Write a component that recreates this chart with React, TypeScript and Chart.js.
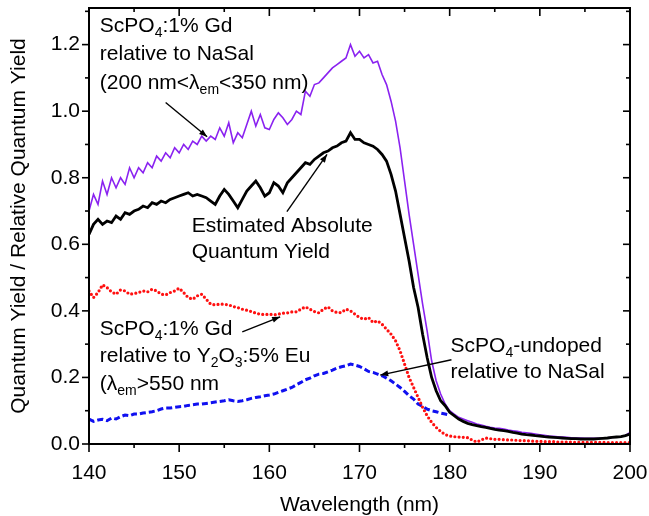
import React, { useEffect, useRef } from "react";
import { Chart, registerables } from "chart.js";

Chart.register(...registerables);

// ---------- data ----------
const wavelengths = [
  140, 140.5, 141, 141.5, 142, 142.5, 143, 143.5, 144, 144.5,
  145, 145.5, 146, 146.5, 147, 147.5, 148, 148.5, 149, 149.5,
  150, 150.5, 151, 151.5, 152, 152.5, 153, 153.5, 154, 154.5,
  155, 155.5, 156, 156.5, 157, 157.5, 158, 158.5, 159, 159.5,
  160, 160.5, 161, 161.5, 162, 162.5, 163, 163.5, 164, 164.5,
  165, 165.5, 166, 166.5, 167, 167.5, 168, 168.5, 169, 169.5,
  170, 170.5, 171, 171.5, 172, 172.5, 173, 173.5, 174, 174.5,
  175, 175.5, 176, 176.5, 177, 177.5, 178, 178.5, 179, 179.5,
  180, 180.5, 181, 181.5, 182, 182.5, 183, 183.5, 184, 184.5,
  185, 185.5, 186, 186.5, 187, 187.5, 188, 188.5, 189, 189.5,
  190, 190.5, 191, 191.5, 192, 192.5, 193, 193.5, 194, 194.5,
  195, 195.5, 196, 196.5, 197, 197.5, 198, 198.5, 199, 199.5,
  200,
];

// ScPO4:1% Gd relative to NaSal (purple)
const gdRelNaSal = [
  0.70, 0.75, 0.72, 0.79, 0.75, 0.80, 0.77, 0.80, 0.78, 0.83,
  0.80, 0.83, 0.815, 0.845, 0.83, 0.865, 0.85, 0.875, 0.86, 0.89,
  0.875, 0.90, 0.885, 0.91, 0.90, 0.925, 0.91, 0.925, 0.915, 0.95,
  0.925, 0.965, 0.905, 0.935, 0.92, 0.96, 1.0, 0.955, 0.99, 0.95,
  0.945, 0.975, 0.995, 0.98, 0.96, 0.975, 1.0, 0.99, 1.06, 1.045,
  1.08, 1.085, 1.10, 1.115, 1.13, 1.14, 1.15, 1.16, 1.20, 1.165,
  1.18, 1.16, 1.17, 1.145, 1.15, 1.11, 1.08, 1.03, 0.97, 0.89,
  0.79, 0.69, 0.60, 0.51, 0.42, 0.34, 0.25, 0.19, 0.15, 0.12,
  0.10, 0.09, 0.08, 0.075, 0.07, 0.065, 0.06, 0.057, 0.053, 0.05,
  0.048, 0.047, 0.045, 0.042, 0.04, 0.038, 0.035, 0.034, 0.032, 0.03,
  0.028, 0.026, 0.024, 0.023, 0.022, 0.021, 0.02, 0.019, 0.018, 0.018,
  0.017, 0.017, 0.017, 0.017, 0.018, 0.019, 0.02, 0.021, 0.022, 0.026,
  0.035,
];

// Estimated absolute quantum yield (black)
const absoluteQY = [
  0.63, 0.66, 0.675, 0.66, 0.67, 0.665, 0.685, 0.675, 0.695, 0.69,
  0.70, 0.705, 0.715, 0.71, 0.725, 0.72, 0.73, 0.725, 0.735, 0.74,
  0.745, 0.75, 0.755, 0.745, 0.75, 0.745, 0.74, 0.73, 0.72, 0.745,
  0.765, 0.75, 0.73, 0.71, 0.735, 0.76, 0.775, 0.79, 0.77, 0.745,
  0.755, 0.785, 0.775, 0.755, 0.785, 0.80, 0.815, 0.83, 0.845, 0.84,
  0.855, 0.865, 0.875, 0.88, 0.89, 0.895, 0.905, 0.91, 0.935, 0.915,
  0.915, 0.905, 0.90, 0.895, 0.885, 0.87, 0.85, 0.81, 0.76, 0.69,
  0.62, 0.55, 0.47, 0.41, 0.33, 0.26, 0.20, 0.16, 0.13, 0.115,
  0.095, 0.085, 0.075, 0.068, 0.062, 0.058, 0.055, 0.052, 0.05, 0.047,
  0.044, 0.042, 0.04, 0.038, 0.035, 0.033, 0.03, 0.028, 0.027, 0.025,
  0.024, 0.022, 0.021, 0.02, 0.019, 0.018, 0.017, 0.016, 0.016, 0.015,
  0.015, 0.015, 0.015, 0.016, 0.017, 0.018, 0.02, 0.021, 0.022, 0.025,
  0.03,
];

// ScPO4:1% Gd relative to Y2O3:5% Eu (red, dotted)
const gdRelY2O3 = [
  0.46, 0.44, 0.455, 0.478, 0.47, 0.457, 0.45, 0.463, 0.46, 0.45,
  0.452, 0.455, 0.46, 0.457, 0.465, 0.46, 0.45, 0.448, 0.455, 0.46,
  0.468, 0.455, 0.44, 0.435, 0.445, 0.45, 0.435, 0.42, 0.418, 0.42,
  0.42, 0.418, 0.413, 0.41, 0.405, 0.402, 0.398, 0.393, 0.39, 0.389,
  0.39, 0.388, 0.39, 0.393, 0.394, 0.397, 0.397, 0.405, 0.412, 0.405,
  0.398, 0.394, 0.405, 0.412, 0.40, 0.395, 0.395, 0.405, 0.40, 0.39,
  0.38, 0.375, 0.38, 0.365, 0.37, 0.36, 0.345, 0.33, 0.31, 0.28,
  0.24, 0.20, 0.17, 0.14, 0.11, 0.085, 0.065, 0.05, 0.038, 0.028,
  0.024, 0.022, 0.021, 0.02, 0.019, 0.012, 0.006, 0.012, 0.018, 0.016,
  0.014, 0.014, 0.013, 0.012, 0.012, 0.011, 0.01, 0.01, 0.009, 0.008,
  0.008, 0.007, 0.007, 0.007, 0.006, 0.006, 0.006, 0.006, 0.005, 0.005,
  0.005, 0.005, 0.005, 0.005, 0.005, 0.004, 0.004, 0.004, 0.004, 0.004,
  0.004,
];

// ScPO4-undoped relative to NaSal (blue, dashed) – 140 … 180 nm
const undopedRelNaSal = [
  0.075, 0.068, 0.072, 0.074, 0.07, 0.078, 0.075, 0.082, 0.087, 0.085,
  0.09, 0.09, 0.093, 0.095, 0.097, 0.10, 0.105, 0.108, 0.108, 0.11,
  0.112, 0.113, 0.116, 0.118, 0.12, 0.12, 0.122, 0.124, 0.126, 0.128,
  0.13, 0.133, 0.13, 0.128, 0.13, 0.133, 0.137, 0.14, 0.142, 0.145,
  0.147, 0.15, 0.155, 0.16, 0.165, 0.17, 0.178, 0.185, 0.193, 0.198,
  0.205, 0.21, 0.212, 0.217, 0.222, 0.228, 0.232, 0.235, 0.24, 0.237,
  0.233, 0.226, 0.218, 0.215, 0.21, 0.205, 0.198, 0.19, 0.18, 0.17,
  0.158, 0.145, 0.135, 0.12, 0.113, 0.105, 0.10, 0.097, 0.093, 0.09,
  0.087,
];

const xTickLabels = [140, 150, 160, 170, 180, 190, 200];
const yTickLabels = ["0.0", "0.2", "0.4", "0.6", "0.8", "1.0", "1.2"];

const xTitle = "Wavelength (nm)";
const yTitle = "Quantum Yield / Relative Quantum Yield";

// annotation texts (segments: sub = subscript)
type Seg = { t: string; sub?: boolean };
const notes: { x: number; y: number; lh: number; lines: Seg[][] }[] = [
  {
    x: 141.2, y: 1.239, lh: 28.5,
    lines: [
      [{ t: "ScPO" }, { t: "4", sub: true }, { t: ":1% Gd" }],
      [{ t: "relative to NaSal" }],
      [{ t: "(200 nm<λ" }, { t: "em", sub: true }, { t: "<350 nm)" }],
    ],
  },
  {
    x: 151.4, y: 0.638, lh: 26,
    lines: [[{ t: "Estimated Absolute" }], [{ t: "Quantum Yield" }]],
  },
  {
    x: 141.2, y: 0.328, lh: 27.5,
    lines: [
      [{ t: "ScPO" }, { t: "4", sub: true }, { t: ":1% Gd" }],
      [{ t: "relative to Y" }, { t: "2", sub: true }, { t: "O" }, { t: "3", sub: true }, { t: ":5% Eu" }],
      [{ t: "(λ" }, { t: "em", sub: true }, { t: ">550 nm" }],
    ],
  },
  {
    x: 180.1, y: 0.277, lh: 26,
    lines: [
      [{ t: "ScPO" }, { t: "4", sub: true }, { t: "-undoped" }],
      [{ t: "relative to NaSal" }],
    ],
  },
];

// arrows: [fromX, fromY, toX, toY] in data units
const arrows: number[][] = [
  [148.5, 1.026, 153.1, 0.923],
  [161.95, 0.698, 166.4, 0.87],
  [157.0, 0.337, 161.2, 0.382],
  [180.2, 0.253, 172.3, 0.207],
];

const FONT = "'Liberation Sans', Arial, Helvetica, sans-serif";

const framePlugin = {
  id: "frameAndNotes",
  afterDraw(chart: any) {
    const { ctx, chartArea: a, scales } = chart;
    const xs = scales.x;
    const ys = scales.y;
    ctx.save();
    ctx.setLineDash([]);
    ctx.lineCap = "butt";
    ctx.strokeStyle = "#000";
    ctx.fillStyle = "#000";
    const seg = (x1: number, y1: number, x2: number, y2: number) => {
      ctx.beginPath();
      ctx.moveTo(x1, y1);
      ctx.lineTo(x2, y2);
      ctx.stroke();
    };
    // ticks
    ctx.lineWidth = 1.6;
    xs.ticks.forEach((t: any) => {
      const px = xs.getPixelForValue(t.value);
      const major = xTickLabels.includes(Math.round(t.value));
      const L = major ? 8 : 4;
      seg(px, a.bottom, px, a.bottom + L);
      seg(px, a.top, px, a.top + L);
    });
    ys.ticks.forEach((t: any) => {
      const py = ys.getPixelForValue(t.value);
      const major = Math.round(t.value * 10) % 2 === 0;
      const L = major ? 7 : 4;
      seg(a.left - L, py, a.left, py);
      seg(a.right - L, py, a.right, py);
    });
    // frame
    ctx.lineWidth = 2;
    ctx.strokeRect(a.left, a.top, a.right - a.left, a.bottom - a.top);

    // notes
    ctx.textBaseline = "alphabetic";
    ctx.textAlign = "left";
    notes.forEach((n) => {
      const x0 = xs.getPixelForValue(n.x);
      const y0 = ys.getPixelForValue(n.y);
      n.lines.forEach((line, i) => {
        let cx = x0;
        const by = y0 + i * n.lh;
        line.forEach((s) => {
          ctx.font = s.sub ? `14px ${FONT}` : `21px ${FONT}`;
          ctx.fillText(s.t, cx, s.sub ? by + 5 : by);
          cx += ctx.measureText(s.t).width;
        });
      });
    });

    // arrows
    ctx.lineWidth = 1.4;
    arrows.forEach(([fx, fy, tx, ty]) => {
      const x1 = xs.getPixelForValue(fx);
      const y1 = ys.getPixelForValue(fy);
      const x2 = xs.getPixelForValue(tx);
      const y2 = ys.getPixelForValue(ty);
      seg(x1, y1, x2, y2);
      const ang = Math.atan2(y2 - y1, x2 - x1);
      const hl = 8;
      const hw = 3;
      ctx.beginPath();
      ctx.moveTo(x2, y2);
      ctx.lineTo(x2 - hl * Math.cos(ang) + hw * Math.sin(ang), y2 - hl * Math.sin(ang) - hw * Math.cos(ang));
      ctx.lineTo(x2 - hl * Math.cos(ang) - hw * Math.sin(ang), y2 - hl * Math.sin(ang) + hw * Math.cos(ang));
      ctx.closePath();
      ctx.fill();
    });
    ctx.restore();
  },
};

export default function App() {
  const ref = useRef<HTMLCanvasElement | null>(null);

  useEffect(() => {
    if (!ref.current) return;
    const pts = (arr: number[]) => arr.map((v, i) => ({ x: wavelengths[i], y: v }));
    const chart = new Chart(ref.current, {
      type: "line",
      data: {
        datasets: [
          {
            label: "ScPO4:1% Gd relative to Y2O3:5% Eu",
            data: pts(gdRelY2O3),
            borderColor: "#ff1010",
            borderWidth: 3.2,
            borderDash: [0, 4.2],
            borderCapStyle: "round",
            pointRadius: 0,
            order: 1,
          },
          {
            label: "ScPO4-undoped relative to NaSal",
            data: pts(undopedRelNaSal),
            borderColor: "#1010f0",
            borderWidth: 3,
            borderDash: [6, 3],
            pointRadius: 0,
            order: 2,
          },
          {
            label: "Estimated Absolute Quantum Yield",
            data: pts(absoluteQY),
            borderColor: "#000000",
            borderWidth: 2.8,
            pointRadius: 0,
            order: 3,
          },
          {
            label: "ScPO4:1% Gd relative to NaSal",
            data: pts(gdRelNaSal),
            borderColor: "#8a22f0",
            borderWidth: 1.6,
            pointRadius: 0,
            order: 4,
          },
        ],
      },
      options: {
        animation: false,
        responsive: false,
        devicePixelRatio: 1,
        layout: { padding: { left: 0, right: 19, top: 8, bottom: 0 } },
        plugins: { legend: { display: false }, tooltip: { enabled: false } },
        scales: {
          x: {
            type: "linear",
            min: 140,
            max: 200,
            grid: { display: false, drawTicks: false, tickLength: 0 },
            border: { display: false },
            ticks: {
              stepSize: 5,
              autoSkip: false,
              maxRotation: 0,
              padding: 17,
              color: "#000",
              font: { size: 21, family: FONT },
              callback: (v: any) => (xTickLabels.includes(Math.round(Number(v) * 100) / 100) ? String(Math.round(Number(v))) : ""),
            },
            title: {
              display: true,
              text: xTitle,
              color: "#000",
              font: { size: 21, family: FONT, lineHeight: 1 },
              padding: { top: 0, bottom: 0 },
            },
            afterFit: (s: any) => {
              s.height = 72;
              s.paddingLeft = 0;
              s.paddingRight = 0;
            },
          },
          y: {
            type: "linear",
            min: 0,
            max: 1.31,
            grid: { display: false, drawTicks: false, tickLength: 0 },
            border: { display: false },
            ticks: {
              stepSize: 0.1,
              autoSkip: false,
              includeBounds: false,
              padding: 9,
              color: "#000",
              font: { size: 21, family: FONT },
              callback: (v: any) => {
                const lab = yTickLabels.find((l) => Math.abs(parseFloat(l) - Number(v)) < 1e-6);
                return lab ?? "";
              },
            },
            title: {
              display: true,
              text: yTitle,
              color: "#000",
              font: { size: 21, family: FONT, lineHeight: 1 },
              padding: { top: 8.5, bottom: 0 },
            },
            afterFit: (s: any) => {
              s.width = 89;
              s.paddingTop = 0;
              s.paddingBottom = 0;
            },
          },
        },
      },
      plugins: [framePlugin],
    } as any);
    return () => chart.destroy();
  }, []);

  return (
    <div style={{ position: "fixed", left: 0, top: 0, width: 649, height: 516, background: "#fff" }}>
      <canvas ref={ref} width={649} height={516} />
    </div>
  );
}
